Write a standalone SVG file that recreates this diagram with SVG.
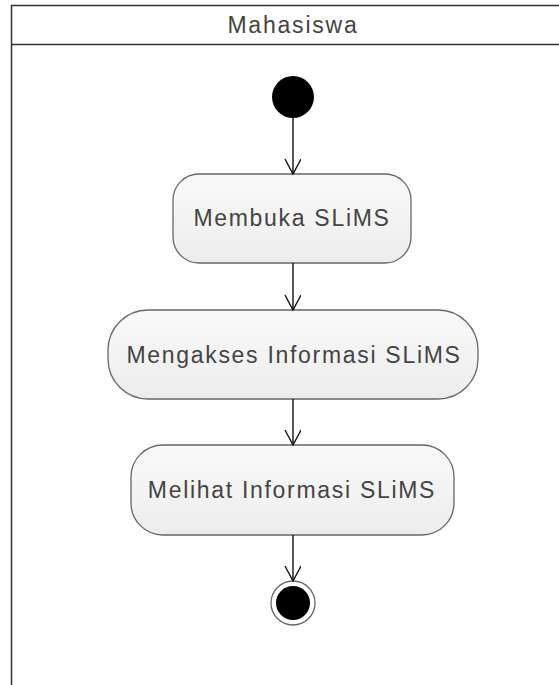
<svg xmlns="http://www.w3.org/2000/svg" width="559" height="685" viewBox="0 0 559 685">
<style>
.lane{fill:#fff;stroke:#333;stroke-width:1.5}
.act{fill:url(#g);stroke:#666;stroke-width:1.3}
.t{font-family:"Liberation Sans",Arial,sans-serif;font-size:23px;letter-spacing:1.7px;fill:#444;text-anchor:middle}
.h{font-size:23px;letter-spacing:1.8px}
.edge{stroke:#111;stroke-width:1.4;fill:none}
</style>
<defs>
<linearGradient id="g" x1="0" y1="0" x2="0" y2="1">
<stop offset="0" stop-color="#fafafa"/>
<stop offset="1" stop-color="#ececec"/>
</linearGradient>
<marker id="arr" markerWidth="20" markerHeight="20" refX="16" refY="8" orient="auto" markerUnits="userSpaceOnUse">
<path d="M1,0 L16,8 L1,16" fill="none" stroke="#111" stroke-width="1.4"/>
</marker>
</defs>
<g id="lane">
<rect class="lane" x="11.5" y="5.5" width="560" height="700"/>
<line x1="11.5" y1="44.5" x2="559" y2="44.5" stroke="#333" stroke-width="1.5"/>
<text class="t h" x="293" y="33">Mahasiswa</text>
</g>
<g id="start">
<circle cx="293" cy="97" r="21" fill="#000"/>
</g>
<g id="n1">
<rect class="act" x="173" y="174" width="238" height="89" rx="26"/>
<text class="t" x="292" y="226">Membuka SLiMS</text>
</g>
<g id="n2">
<rect class="act" x="108" y="310" width="370" height="89" rx="40"/>
<text class="t" x="294" y="363">Mengakses Informasi SLiMS</text>
</g>
<g id="n3">
<rect class="act" x="131" y="445" width="323" height="90" rx="32"/>
<text class="t" x="292" y="498">Melihat Informasi SLiMS</text>
</g>
<g id="end">
<circle cx="293" cy="603" r="22" fill="#fff" stroke="#666" stroke-width="1.3"/>
<circle cx="293" cy="603" r="17" fill="#000"/>
</g>
<g id="connectors">
<line class="edge" x1="293" y1="118" x2="293" y2="174" marker-end="url(#arr)"/>
<line class="edge" x1="293" y1="263" x2="293" y2="310" marker-end="url(#arr)"/>
<line class="edge" x1="293" y1="399" x2="293" y2="445" marker-end="url(#arr)"/>
<line class="edge" x1="293" y1="535" x2="293" y2="581" marker-end="url(#arr)"/>
</g>
</svg>
